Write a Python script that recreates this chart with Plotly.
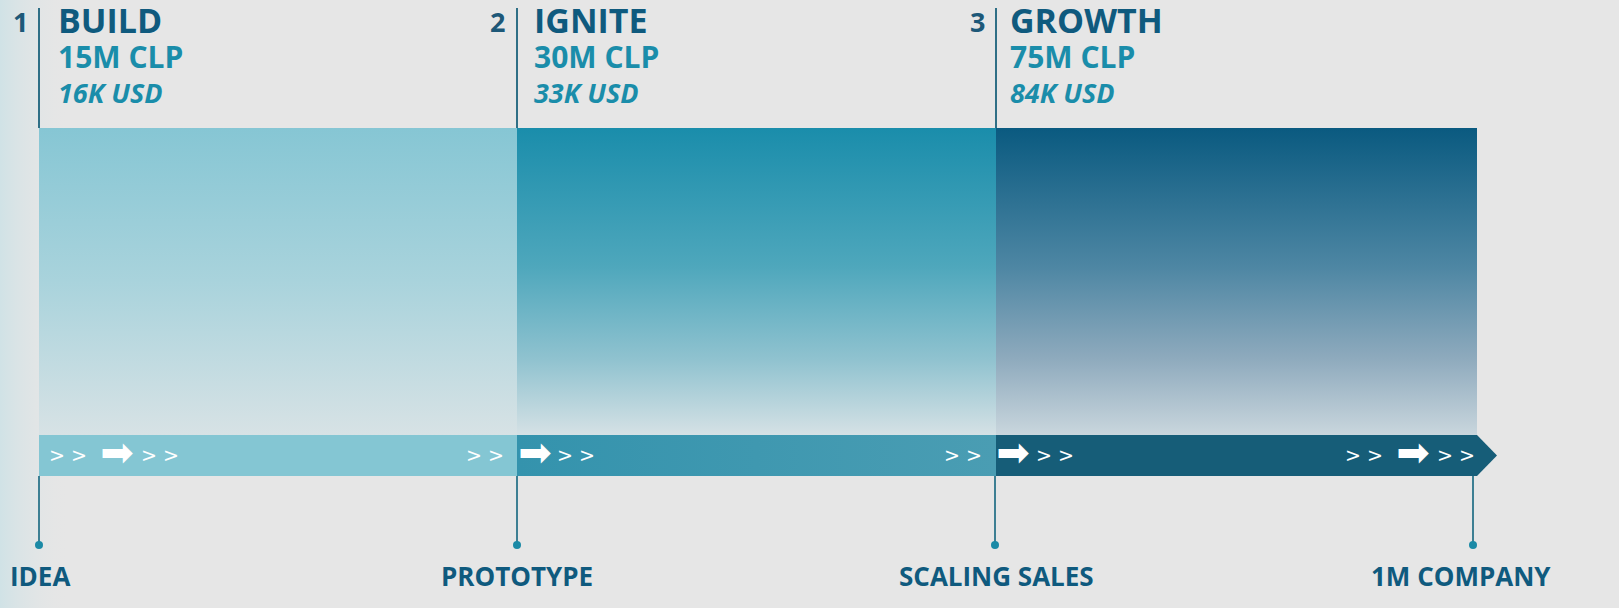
import plotly.graph_objects as go

# ---------------- data ----------------
stage_numbers = ["1", "2", "3"]
stages = ["BUILD", "IGNITE", "GROWTH"]
clp_millions = [15, 30, 75]
usd_thousands = [16, 33, 84]
milestones = ["IDEA", "PROTOTYPE", "SCALING SALES", "1M COMPANY"]

# ---------------- layout constants (pixel space) ----------------
W, H = 1619, 608
BOUNDS = [39, 517, 996, 1477]          # stage boundaries
MILESTONE_X = [39, 517, 995, 1473]
BOX_TOP, BOX_BOT = 128, 435
BAR_TOP, BAR_BOT = 435, 476
TIP_X = 1497

box_scales = [
    [[0, "#86c6d4"], [0.5, "#a9d3dc"], [1, "#d7e2e5"]],
    [[0, "#1a8dab"], [0.45, "#4ea7bc"], [0.75, "#8fc2cf"], [1, "#d5e1e5"]],
    [[0, "#0a5a80"], [0.45, "#4d86a3"], [0.75, "#8eaabd"], [1, "#c9d6dd"]],
]
bar_scales = [
    [[0, "#84c6d3"], [1, "#84c6d3"]],
    [[0, "#3493ad"], [1, "#4a9db3"]],
    [[0, "#165d78"], [1, "#165d78"]],
]

TITLE_C = "#0f5a7e"
AMOUNT_C = "#1a8daa"
LINE_C = "#2f6f86"
DOT_C = "#1b8aa6"

fig = go.Figure()

# subtle bluish glow on the left edge of the background
fig.add_trace(go.Scatter(
    x=[0, 70, 70, 0, 0], y=[0, 0, H, H, 0], mode="lines", fill="toself",
    line=dict(width=0),
    fillgradient=dict(type="horizontal", start=0, stop=70,
                      colorscale=[[0, "rgba(208,226,230,1)"], [1, "rgba(230,230,230,0)"]]),
    hoverinfo="skip", showlegend=False))

# stage boxes (vertical gradients)
for i in range(len(stages)):
    x0, x1 = BOUNDS[i], BOUNDS[i + 1]
    fig.add_trace(go.Scatter(
        x=[x0, x1, x1, x0, x0], y=[BOX_TOP, BOX_TOP, BOX_BOT, BOX_BOT, BOX_TOP],
        mode="lines", fill="toself", line=dict(width=0),
        fillgradient=dict(type="vertical", start=BOX_TOP, stop=BOX_BOT,
                          colorscale=box_scales[i]),
        hoverinfo="skip", showlegend=False))

# progress bar segments
for i in range(len(stages)):
    x0, x1 = BOUNDS[i], BOUNDS[i + 1]
    if i == len(stages) - 1:
        xs = [x0, x1, TIP_X, x1, x0, x0]
        ys = [BAR_TOP, BAR_TOP, (BAR_TOP + BAR_BOT) / 2, BAR_BOT, BAR_BOT, BAR_TOP]
    else:
        xs = [x0, x1, x1, x0, x0]
        ys = [BAR_TOP, BAR_TOP, BAR_BOT, BAR_BOT, BAR_TOP]
    fig.add_trace(go.Scatter(
        x=xs, y=ys, mode="lines", fill="toself", line=dict(width=0),
        fillgradient=dict(type="horizontal", start=x0, stop=x1, colorscale=bar_scales[i]),
        hoverinfo="skip", showlegend=False))

# top divider lines
for i in range(len(stages)):
    fig.add_trace(go.Scatter(
        x=[BOUNDS[i], BOUNDS[i]], y=[8, BOX_TOP], mode="lines",
        line=dict(color=LINE_C, width=2), hoverinfo="skip", showlegend=False))

# bottom milestone stems with dots
for i in range(len(milestones)):
    fig.add_trace(go.Scatter(
        x=[MILESTONE_X[i], MILESTONE_X[i]], y=[BAR_BOT, 545], mode="lines",
        line=dict(color="#3d7f93", width=2), hoverinfo="skip", showlegend=False))
    fig.add_trace(go.Scatter(
        x=[MILESTONE_X[i]], y=[545], mode="markers",
        marker=dict(color=DOT_C, size=8), hoverinfo="skip", showlegend=False))

# chevrons and arrows on the bar
chev_x = [68, 160, 485, 576, 963, 1055, 1364, 1456]
arrow_x = [117, 535, 1013, 1413]
fig.add_trace(go.Scatter(
    x=chev_x, y=[457] * len(chev_x), mode="text", text=["&gt; &gt;"] * len(chev_x),
    textfont=dict(family="DejaVu Sans", size=19, color="white"),
    hoverinfo="skip", showlegend=False))
fig.add_trace(go.Scatter(
    x=arrow_x, y=[456] * len(arrow_x), mode="text", text=["➡"] * len(arrow_x),
    textfont=dict(family="DejaVu Sans", size=40, color="white"),
    hoverinfo="skip", showlegend=False))

ann = []
num_x = [20, 497, 977]
title_x = [56, 532, 1008]
for i in range(len(stages)):
    ann.append(dict(x=num_x[i], y=21, text=f"<b>{stage_numbers[i]}</b>", showarrow=False,
                    xanchor="center", yanchor="middle",
                    font=dict(family="Open Sans", size=27, color="#1d5878")))
    block = (
        f"<span style='font-size:34px;color:{TITLE_C}'><b>{stages[i]}</b></span><br>"
        f"<span style='font-size:30px'><b>{clp_millions[i]}M CLP</b></span><br>"
        f"<span style='font-size:27px'><b><i>{usd_thousands[i]}K USD</i></b></span>"
    )
    ann.append(dict(x=title_x[i], y=54, text=block, showarrow=False, align="left",
                    xanchor="left", yanchor="middle",
                    font=dict(family="Open Sans", size=27, color=AMOUNT_C)))

label_x = [8, 517, 996, 1553]
label_anchor = ["left", "center", "center", "right"]
for i in range(len(milestones)):
    ann.append(dict(x=label_x[i], y=576, text=f"<b>{milestones[i]}</b>", showarrow=False,
                    xanchor=label_anchor[i], yanchor="middle",
                    font=dict(family="Open Sans", size=26, color=TITLE_C)))

fig.update_layout(
    width=W, height=H,
    margin=dict(l=0, r=0, t=0, b=0),
    paper_bgcolor="#e6e6e6", plot_bgcolor="#e6e6e6",
    xaxis=dict(range=[0, W], visible=False, fixedrange=True),
    yaxis=dict(range=[H, 0], visible=False, fixedrange=True),
    annotations=ann, showlegend=False,
)

fig.write_html(
    "out.html",
    config={"displayModeBar": False},
    post_script="document.body.style.margin='0';document.body.style.overflow='hidden';",
)
